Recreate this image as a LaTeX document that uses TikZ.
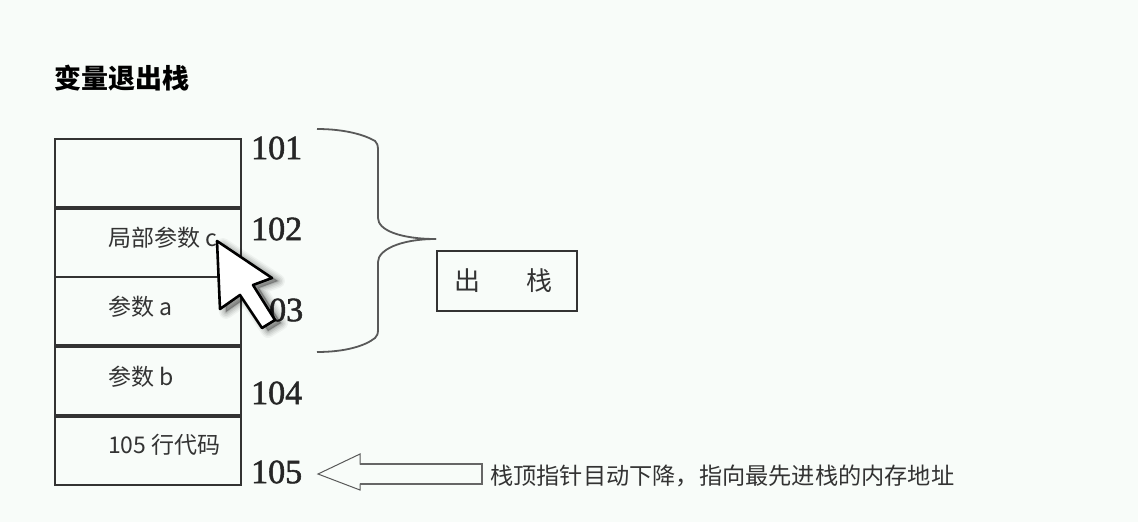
\documentclass[tikz,border=0pt]{standalone}
\usepackage{fontspec}
\setmainfont{Liberation Serif}
\newfontfamily\cjk{Noto Sans CJK SC}
\newfontfamily\addrfont[FakeBold=1.6]{Liberation Serif}
\definecolor{paper}{HTML}{F8FCF9}
\definecolor{ink}{HTML}{333333}
\tikzset{
  cell/.style={draw=ink,line width=1.6pt,minimum width=186pt,anchor=north west,inner sep=0pt,outer sep=0pt},
  celltext/.style={anchor=west,inner sep=0pt,font=\cjk\fontsize{23}{23}\selectfont,text=ink},
  addr/.style={anchor=west,inner sep=0pt,font=\addrfont\fontsize{34}{34}\selectfont,text=black!85},
  curve/.style={draw=black!65,line width=1.8pt},
  hollow/.style={draw=black!65,line width=1pt,line join=miter,fill=paper},
  pointer/.style={draw=black,line width=2.6pt,line join=round,fill=white},
}
\begin{document}
\begin{tikzpicture}[x=1pt,y=-1pt]
\path[use as bounding box,fill=paper] (0,0) rectangle (1138,522);
\node[anchor=west,inner sep=0pt,font=\cjk\fontsize{27}{27}\selectfont\bfseries,text=black] (title) at (54,78) {变量退出栈};
\node[cell,minimum height=68pt] (c1) at (55,139) {};
\node[cell,minimum height=68pt] (c2) at (55,209) {};
\node[cell,minimum height=68pt] (c3) at (55,277) {};
\node[cell,minimum height=68pt] (c4) at (55,347) {};
\node[cell,minimum height=68pt] (c5) at (55,417) {};
\node[celltext] (t2) at (108,238) {局部参数 c};
\node[celltext] (t3) at (108,307) {参数 a};
\node[celltext] (t4) at (108,377) {参数 b};
\node[celltext] (t5) at (108,445) {105 行代码};
\node[addr] (a1) at (251,148) {101};
\node[addr] (a2) at (251,229) {102};
\node[addr] (a3) at (269,310) {03};
\node[addr] (a4) at (251,393) {104};
\node[addr] (a5) at (251,472) {105};
\coordinate (bt) at (317,129);
\coordinate (bb) at (317,352);
\coordinate (bp) at (436,239);
\draw[curve] (bt) .. controls (345,129) and (365,135) .. (375,141)
  .. controls (377,143) and (378,145) .. (378,150)
  -- (378,218) .. controls (378,230) and (400,239) .. (bp);
\draw[curve] (bb) .. controls (345,352) and (365,346) .. (375,338)
  .. controls (377,336) and (378,334) .. (378,330)
  -- (378,262) .. controls (378,250) and (400,239) .. (bp);
\node[draw=ink,line width=1.6pt,minimum width=140pt,minimum height=60pt,anchor=north west,inner sep=0pt,outer sep=0pt,font=\cjk\fontsize{26}{26}\selectfont,text=ink] (out) at (437,251) {出\hspace{46pt}栈\hspace{7pt}\null};
\node[anchor=west,inner sep=0pt,font=\cjk\fontsize{23.2}{23.2}\selectfont,text=ink] (note) at (490,476) {栈顶指针目动下降，指向最先进栈的内存地址};
\draw[hollow] (318,474) -- (360,454) -- (360,464) -- (482,464) -- (482,484) -- (360,484) -- (360,490) -- cycle;
\draw[draw=black!60,line width=2.6pt] (360,464) -- (482,464) -- (482,484) -- (360,484);
% mouse pointer with soft shadow
\foreach \d/\o in {14/0.04,11/0.05,8/0.06,5/0.08,2/0.10}{
  \fill[black,opacity=\o,line join=round] (223,245) -- (278,281) -- (259,288) -- (281,323) -- (268,331) -- (246,298) -- (226,312) -- cycle;
  \draw[black,opacity=\o,line width=\d pt,line join=round] (223,245) -- (278,281) -- (259,288) -- (281,323) -- (268,331) -- (246,298) -- (226,312) -- cycle;
}
\draw[pointer] (217,241) -- (272,278) -- (253,285) -- (275,320) -- (262,328) -- (240,295) -- (220,309) -- cycle;
\end{tikzpicture}
\end{document}
